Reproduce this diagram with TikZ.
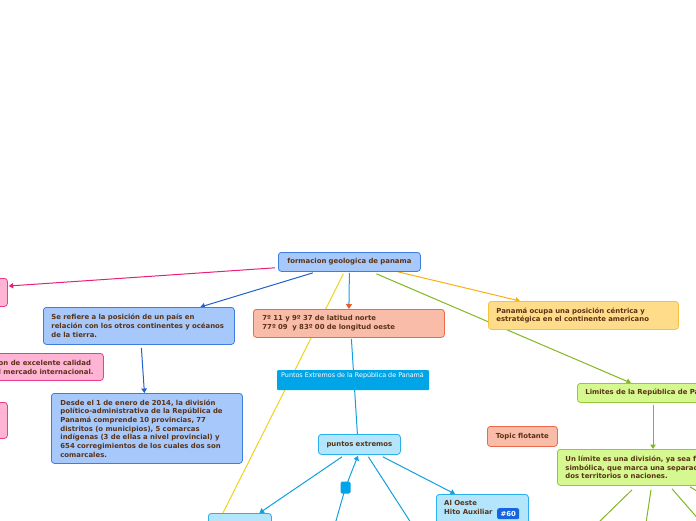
\documentclass[tikz,border=0pt]{standalone}
\usepackage{fontspec}
\setmainfont{DejaVu Sans}
\usetikzlibrary{arrows.meta,calc,backgrounds}
\definecolor{txt}{HTML}{5A3216}
\definecolor{bluefill}{HTML}{A6C8FA}
\definecolor{blueline}{HTML}{3D7EE0}
\definecolor{pinkfill}{HTML}{FFB3D5}
\definecolor{pinkline}{HTML}{E83E8C}
\definecolor{salfill}{HTML}{F9BCA9}
\definecolor{salline}{HTML}{EA6A4A}
\definecolor{cyanfill}{HTML}{00A5E8}
\definecolor{lcfill}{HTML}{B3E5FC}
\definecolor{lcline}{HTML}{2AB0EC}
\definecolor{orfill}{HTML}{FFDC8A}
\definecolor{orline}{HTML}{F8C040}
\definecolor{grfill}{HTML}{D6F891}
\definecolor{grline}{HTML}{94C83A}
\definecolor{cpink}{HTML}{E8207A}
\definecolor{cdblue}{HTML}{2060D0}
\definecolor{clblue}{HTML}{10A0E0}
\definecolor{cyellow}{HTML}{EDD21E}
\definecolor{corange}{HTML}{F8B010}
\definecolor{cgreen}{HTML}{80B820}
\definecolor{cred}{HTML}{F0582A}
\definecolor{badge}{HTML}{1565E0}
\begin{document}
\begin{tikzpicture}[x=1pt,y=1pt,
  box/.style={rounded corners=3pt,line width=0.8pt,anchor=north west,inner xsep=8pt,inner ysep=0pt,align=left,
    font=\fontsize{6.9}{8.7}\selectfont\bfseries,text=txt},
  bluebox/.style={box,fill=bluefill,draw=blueline},
  pinkbox/.style={box,fill=pinkfill,draw=pinkline},
  salbox/.style={box,fill=salfill,draw=salline},
  lcbox/.style={box,fill=lcfill,draw=lcline},
  orbox/.style={box,fill=orfill,draw=orline},
  grbox/.style={box,fill=grfill,draw=grline},
  conn/.style={line width=1pt},
  arr/.style={conn,-{Triangle[length=4.5pt,width=5.5pt]}},
  plain/.style={anchor=north west,inner sep=0pt,align=left,font=\fontsize{6.9}{8.7}\selectfont\bfseries,text=txt}
]
\useasboundingbox (0,0) rectangle (696,-520);

% nodes
\node[bluebox,align=center,inner xsep=4pt,minimum width=142pt,minimum height=19pt,text width=134pt] (c) at (278,-252) {formacion geologica de panama};
\node[pinkbox,minimum width=107pt,minimum height=28pt,text width=91pt] (p1) at (-100,-278) {};
\node[bluebox,minimum width=191pt,minimum height=37pt,text width=175pt] (s) at (43,-307)
  {Se refiere a la posición de un país en\\relación con los otros continentes y océanos\\de la tierra.};
\node[pinkbox,minimum width=203pt,minimum height=27pt,text width=187pt] (p2) at (-100,-353) {};
\node[plain] (p2t) at (-1.5,-360) {on de excelente calidad\\l mercado internacional.};
\node[pinkbox,minimum width=107pt,minimum height=36pt,text width=91pt] (p3) at (-100,-402) {};
\node[bluebox,inner xsep=9pt,minimum width=191pt,minimum height=70pt,text width=173pt] (d) at (51,-393)
  {Desde el 1 de enero de 2014, la división\\político-administrativa de la República de\\Panamá comprende 10 provincias, 77\\distritos (o municipios), 5 comarcas\\indígenas (3 de ellas a nivel provincial) y\\654 corregimientos de los cuales dos son\\comarcales.};
\node[salbox,inner xsep=9pt,minimum width=191pt,minimum height=28pt,text width=173pt] (lat) at (253,-309)
  {7º 11 y 9º 37 de latitud norte\\77º 09\ \ y 83º 00 de longitud oeste};
\node[anchor=north west,fill=cyanfill,rounded corners=1pt,minimum width=152pt,minimum height=20pt,inner sep=0pt] (pe) at (277,-370) {};
\node[anchor=north west,inner sep=0pt,text=white,font=\fontsize{6.4}{8}\selectfont] (pet) at (281,-372.5) {Puntos Extremos de la República de Panamá};
\node[lcbox,align=center,inner xsep=4pt,minimum width=82pt,minimum height=20pt,text width=74pt] (px) at (318,-434) {puntos extremos};
\node[lcbox,minimum width=63pt,minimum height=20pt,text width=47pt] (bl) at (208,-513) {};
\node[lcbox,minimum width=92pt,minimum height=40pt,text width=76pt] (ao) at (436,-494) {};
\node[plain] (aot) at (444,-500.5) {Al Oeste\\Hito Auxiliar};
\node[anchor=north west,fill=badge,rounded corners=2pt,minimum width=22pt,minimum height=11pt,inner sep=0pt,
  text=white,font=\fontsize{6.9}{7}\selectfont\bfseries] (b60) at (497,-508) {\#60};
\node[orbox,minimum width=190pt,minimum height=28pt,text width=174pt] (pan) at (488,-301)
  {Panamá ocupa una posición céntrica y\\estratégica en el continente americano};
\node[grbox,minimum width=210pt,minimum height=19pt,text width=194pt] (lim) at (577,-383) {Limites de la República de Panamá};
\node[grbox,minimum width=210pt,minimum height=36pt,text width=194pt] (ul) at (557,-449)
  {Un límite es una división, ya sea f\\simbólica, que marca una separac\\dos territorios o naciones.};
\node[salbox,align=center,inner xsep=4pt,minimum width=70pt,minimum height=20pt,text width=62pt] (tf) at (487,-426) {Topic flotante};
\node[fill=cyanfill,rounded corners=1.5pt,minimum width=10pt,minimum height=12pt,inner sep=0pt] (cp) at (345.5,-487.5) {};

\coordinate (e11) at (334.5,-526);
\coordinate (e12) at (413,-526);
\coordinate (g1) at (598,-523);
\coordinate (g2) at (646,-523);
\coordinate (g3) at (700,-521);
\coordinate (g4) at (700,-493);

\begin{scope}[on background layer]
\draw[arr,cpink] ($(c.south west)+(-3,4)$) -- ($(p1.north east)+(1,-8)$);
\draw[arr,cdblue] ($(c.south west)+(35,-1)$) -- ($(s.north)+(61.5,0)$);
\draw[arr,cdblue] ($(s.south)+(2.5,-3)$) -- ($(d.north)+(-2.5,0)$);
\draw[conn,clblue,-{Triangle[length=5pt,width=6pt,color=cred]}] ($(c.south)+(0,-1)$) -- (lat.north);
\draw[conn,clblue] ($(lat.south)+(2.5,-1)$) -- ($(px.north)+(-2,0)$);
\draw[conn,cyellow] ($(c.south)+(-6,-2)$) -- ($(bl.north)+(-18.5,-3)$);
\draw[arr,corange] ($(c.south east)+(-23,0)$) -- ($(pan.north west)+(32,0)$);
\draw[arr,cgreen] ($(c.south)+(27,-2)$) -- ($(lim.north west)+(54,0)$);
\draw[arr,cgreen] ($(lim.south west)+(76,-2)$) -- ($(ul.north west)+(96,0)$);
\draw[arr,clblue] ($(px.south west)+(24,-2)$) -- ($(bl.north)+(19.5,0)$);
\draw[conn,clblue,{Triangle[length=4.5pt,width=5.5pt]}-{Triangle[length=4.5pt,width=5.5pt]}] ($(px.south)+(-1.5,-1)$) -- (cp.center) -- (e11);
\draw[conn,clblue] ($(px.south)+(9,-2)$) -- (e12);
\draw[arr,clblue] ($(px.south east)+(-18,-2)$) -- ($(ao.north west)+(19,0)$);
\draw[conn,cgreen] ($(ul.south west)+(75,-4)$) -- (g1);
\draw[conn,cgreen] ($(ul.south west)+(94,-4)$) -- (g2);
\draw[conn,cgreen] ($(ul.south west)+(115,-3)$) -- (g3);
\draw[conn,cgreen] ($(ul.south west)+(133,-1)$) -- (g4);
\end{scope}
\end{tikzpicture}
\end{document}
